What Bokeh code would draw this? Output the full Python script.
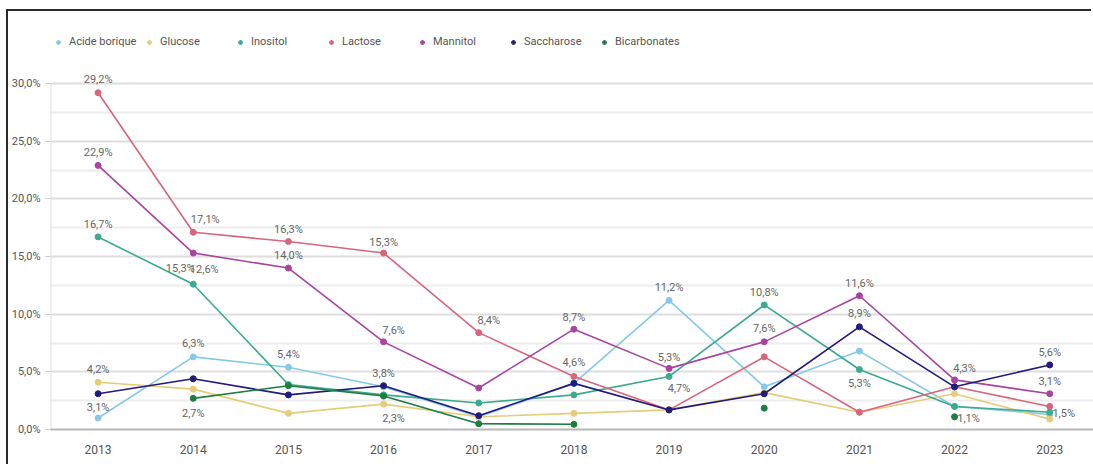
import math
from bokeh.plotting import figure
from bokeh.models import (ColumnDataSource, FixedTicker, CustomJSTickFormatter,
                          Legend, LegendItem)
from bokeh.core.properties import value
from bokeh.embed import file_html
from bokeh.resources import INLINE

nan = float("nan")

years = [2013, 2014, 2015, 2016, 2017, 2018, 2019, 2020, 2021, 2022, 2023]
series_names = ["Acide borique", "Glucose", "Inositol", "Lactose", "Mannitol", "Saccharose", "Bicarbonates"]
acide_borique = [1.0, 6.3, 5.4, 3.7, 1.1, 4.0, 11.2, 3.7, 6.8, 2.0, 1.3]
glucose = [4.1, 3.5, 1.4, 2.2, 1.1, 1.4, 1.7, 3.2, 1.5, 3.1, 0.9]
inositol = [16.7, 12.6, 3.9, 3.0, 2.3, 3.0, 4.6, 10.8, 5.2, 2.0, 1.5]
lactose = [29.2, 17.1, 16.3, 15.3, 8.4, 4.6, 1.7, 6.3, 1.5, 3.7, 2.0]
mannitol = [22.9, 15.3, 14.0, 7.6, 3.6, 8.7, 5.3, 7.6, 11.6, 4.3, 3.1]
saccharose = [3.1, 4.4, 3.0, 3.8, 1.2, 4.0, 1.7, 3.1, 8.9, 3.7, 5.6]
bicarbonates = [nan, 2.7, 3.8, 2.9, 0.5, 0.45, nan, 1.85, nan, 1.1, nan]
y_ticks = [0, 5, 10, 15, 20, 25, 30]

# data labels: series, year, text
label_series = ["Lactose", "Mannitol", "Inositol", "Glucose", "Acide borique",
                "Lactose", "Mannitol", "Inositol", "Acide borique", "Bicarbonates",
                "Lactose", "Mannitol", "Acide borique",
                "Lactose", "Mannitol", "Saccharose", "Glucose",
                "Lactose",
                "Mannitol", "Lactose",
                "Acide borique", "Mannitol", "Inositol",
                "Inositol", "Mannitol",
                "Mannitol", "Saccharose", "Inositol",
                "Mannitol", "Bicarbonates",
                "Saccharose", "Mannitol", "Inositol"]
label_years = [2013, 2013, 2013, 2013, 2013,
               2014, 2014, 2014, 2014, 2014,
               2015, 2015, 2015,
               2016, 2016, 2016, 2016,
               2017,
               2018, 2018,
               2019, 2019, 2019,
               2020, 2020,
               2021, 2021, 2021,
               2022, 2022,
               2023, 2023, 2023]
label_texts = ["29,2%", "22,9%", "16,7%", "4,2%", "3,1%",
               "17,1%", "15,3%", "12,6%", "6,3%", "2,7%",
               "16,3%", "14,0%", "5,4%",
               "15,3%", "7,6%", "3,8%", "2,3%",
               "8,4%",
               "8,7%", "4,6%",
               "11,2%", "5,3%", "4,7%",
               "10,8%", "7,6%",
               "11,6%", "8,9%", "5,3%",
               "4,3%", "1,1%",
               "5,6%", "3,1%", "1,5%"]
# label placement offsets (screen px)
label_dx = [0, 0, 0, 0, 0,
            12, -13, 11, 0, 0,
            0, 0, 0,
            0, 10, 0, 10,
            10,
            0, 0,
            0, 0, 10,
            0, 0,
            0, 0, 0,
            10, 14,
            0, 0, 14]
label_dy = [-13, -13, -12, -13, -10,
            -13, 15, -15, -13, 15,
            -12, -13, -13,
            -11, -11, -12, 14,
            -12,
            -12, -14,
            -13, -11, 12,
            -12, -13,
            -12, -13, 14,
            -11, 2,
            -12, -12, 1]

colors = {
    "Acide borique": "#86c9e6",
    "Glucose": "#e5cd78",
    "Inositol": "#3aab8f",
    "Lactose": "#d8657c",
    "Mannitol": "#a8449f",
    "Saccharose": "#211b7c",
    "Bicarbonates": "#1b7d3f",
}
data = {
    "Acide borique": acide_borique,
    "Glucose": glucose,
    "Inositol": inositol,
    "Lactose": lactose,
    "Mannitol": mannitol,
    "Saccharose": saccharose,
    "Bicarbonates": bicarbonates,
}

FONT = "Roboto"

W, H = 1085, 455
p = figure(width=W, height=H, output_backend="svg", toolbar_location=None,
           x_range=(2012.5, 2023.46), y_range=(0, 34.6),
           min_border_left=42, min_border_right=0, min_border_top=19, min_border_bottom=37)
p.outline_line_color = None
p.background_fill_color = "white"
p.border_fill_color = "white"
p.styles = {"position": "absolute", "left": "8px", "top": "11px", "overflow": "hidden",
            "box-shadow": "-2px -2px 0px 0px #2a2a2a"}

# grid
minor = [2.5, 7.5, 12.5, 17.5, 22.5, 27.5]
p.yaxis.ticker = FixedTicker(ticks=y_ticks, minor_ticks=minor)
p.ygrid.grid_line_color = "#dedede"
p.ygrid.grid_line_width = 2
p.ygrid.minor_grid_line_color = "#ededed"
p.ygrid.minor_grid_line_width = 2
p.xgrid.grid_line_color = None

p.yaxis.formatter = CustomJSTickFormatter(code="return tick.toFixed(1).replace('.', ',') + '%';")
p.yaxis.axis_line_color = None
p.yaxis.major_tick_line_color = "#cccccc"
p.yaxis.major_tick_out = 5
p.yaxis.major_tick_in = 0
p.yaxis.minor_tick_line_color = None
p.yaxis.major_label_text_font = FONT
p.yaxis.major_label_text_font_size = "11px"
p.yaxis.major_label_text_color = "#555555"
p.yaxis.major_label_standoff = 5

p.xaxis.ticker = FixedTicker(ticks=years)
p.xaxis.major_label_overrides = {y: str(y) for y in years}
p.xaxis.axis_line_color = "#b8b8b8"
p.xaxis.axis_line_width = 2
p.xaxis.major_tick_line_color = None
p.xaxis.minor_tick_line_color = None
p.xaxis.major_label_text_font = FONT
p.xaxis.major_label_text_font_size = "12px"
p.xaxis.major_label_text_color = "#555555"
p.xaxis.major_label_standoff = 9

# vertical y-axis line from 0 to the top tick
p.segment(x0=[2012.5], y0=[y_ticks[0]], x1=[2012.5], y1=[y_ticks[-1]],
          line_color="#dddddd", line_width=2)

legend_items = []
for name in series_names:
    src = ColumnDataSource(dict(x=years, y=data[name]))
    p.line("x", "y", source=src, line_color=colors[name], line_width=1.6)
    p.scatter("x", "y", source=src, size=6, fill_color=colors[name], line_color=colors[name])
    lg = p.scatter(x=[nan], y=[nan], marker="plus", size=9, fill_color=colors[name],
                   line_color=colors[name])
    legend_items.append(LegendItem(label=name, renderers=[lg]))

# data labels
lx, ly = [], []
for s, yr in zip(label_series, label_years):
    lx.append(yr)
    ly.append(data[s][years.index(yr)])
lsrc = ColumnDataSource(dict(x=lx, y=ly, t=label_texts, dx=label_dx, dy=label_dy))
p.text("x", "y", text="t", source=lsrc, x_offset="dx", y_offset="dy",
       text_align="center", text_baseline="middle", text_font=value(FONT),
       text_font_size="11px", text_color="#666666")

legend = Legend(items=legend_items, orientation="horizontal", location=(3, 381),
                padding=0, margin=0, spacing=5, glyph_width=10, glyph_height=12,
                label_width=70, label_height=12, label_standoff=6,
                label_text_font=FONT, label_text_font_size="11px",
                label_text_color="#555555", border_line_color=None,
                background_fill_alpha=0)
p.add_layout(legend, "center")

open("out.html", "w").write(file_html(p, INLINE))
